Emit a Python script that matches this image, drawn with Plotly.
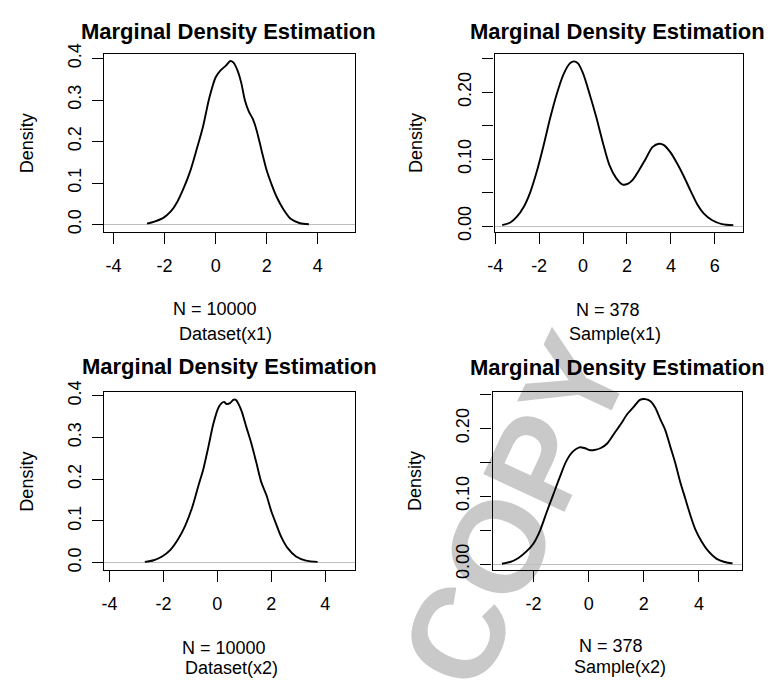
import plotly.graph_objects as go

# ---------------------------------------------------------------
# Kernel density curves (x grid, density) for each variable
# ---------------------------------------------------------------
dataset_x1_x = [-2.69, -2.4, -2.05, -1.75, -1.5, -1.25, -1.0, -0.75, -0.5, -0.25,
                0.0, 0.2, 0.4, 0.57, 0.7, 0.85, 1.0, 1.15, 1.3, 1.45, 1.6, 1.8,
                2.0, 2.2, 2.4, 2.65, 2.95, 3.3, 3.65]
dataset_x1_y = [0.002, 0.007, 0.016, 0.032, 0.055, 0.088, 0.128, 0.180, 0.235, 0.305,
                0.355, 0.372, 0.383, 0.394, 0.390, 0.372, 0.342, 0.298, 0.272, 0.255,
                0.228, 0.178, 0.130, 0.095, 0.065, 0.037, 0.013, 0.003, 0.0005]

sample_x1_x = [-3.68, -3.31, -3.01, -2.71, -2.41, -2.11, -1.8, -1.5, -1.2, -0.9,
               -0.6, -0.42, -0.23, 0.0, 0.3, 0.6, 0.9, 1.2, 1.5, 1.8, 2.03, 2.26,
               2.56, 2.86, 3.16, 3.46, 3.68, 3.98, 4.29, 4.59, 4.89, 5.19, 5.49,
               5.86, 6.32, 6.84]
sample_x1_y = [0.0014, 0.0053, 0.014, 0.028, 0.050, 0.081, 0.120, 0.161, 0.197, 0.226,
               0.243, 0.246, 0.243, 0.228, 0.197, 0.163, 0.125, 0.091, 0.072, 0.062,
               0.063, 0.069, 0.084, 0.101, 0.118, 0.123, 0.121, 0.110, 0.093, 0.074,
               0.053, 0.033, 0.019, 0.009, 0.003, 0.0014]

dataset_x2_x = [-2.69, -2.36, -2.05, -1.74, -1.44, -1.19, -0.94, -0.7, -0.52, -0.33,
                -0.15, 0.04, 0.16, 0.25, 0.34, 0.47, 0.59, 0.69, 0.77, 0.9, 1.08,
                1.26, 1.45, 1.63, 1.82, 2.0, 2.18, 2.37, 2.61, 2.92, 3.29, 3.72]
dataset_x2_y = [0.002, 0.006, 0.015, 0.031, 0.058, 0.089, 0.131, 0.185, 0.224, 0.278,
                0.332, 0.371, 0.382, 0.385, 0.380, 0.382, 0.390, 0.390, 0.382, 0.363,
                0.324, 0.286, 0.239, 0.193, 0.162, 0.124, 0.093, 0.062, 0.035, 0.015,
                0.005, 0.002]

sample_x2_x = [-3.15, -2.85, -2.55, -2.25, -2.01, -1.77, -1.53, -1.29, -1.05, -0.81,
               -0.57, -0.34, -0.16, 0.02, 0.2, 0.44, 0.68, 0.92, 1.16, 1.4, 1.64,
               1.86, 2.06, 2.24, 2.42, 2.6, 2.78, 2.96, 3.14, 3.32, 3.5, 3.68, 3.86,
               4.1, 4.34, 4.63, 4.93, 5.22]
sample_x2_y = [0.0005, 0.003, 0.009, 0.019, 0.030, 0.049, 0.076, 0.102, 0.128, 0.152,
               0.166, 0.172, 0.171, 0.168, 0.168, 0.171, 0.178, 0.192, 0.206, 0.221,
               0.232, 0.242, 0.243, 0.240, 0.230, 0.213, 0.197, 0.173, 0.149, 0.121,
               0.097, 0.073, 0.052, 0.033, 0.019, 0.008, 0.003, 0.001]

# Axis ticks
ticks_dataset_x1 = [-4, -2, 0, 2, 4]
ticks_sample_x1 = [-4, -2, 0, 2, 4, 6]
ticks_dataset_x2 = [-4, -2, 0, 2, 4]
ticks_sample_x2 = [-2, 0, 2, 4]
ytick_dataset = [0.0, 0.1, 0.2, 0.3, 0.4]
ytext_dataset = ["0.0", "0.1", "0.2", "0.3", "0.4"]
ytick_sample = [0.0, 0.05, 0.10, 0.15, 0.20, 0.25]
ytext_sample = ["0.00", "", "0.10", "", "0.20", ""]

titles = ["Marginal Density Estimation"] * 4
n_labels = ["N = 10000", "N = 378", "N = 10000", "N = 378"]
x_labels = ["Dataset(x1)", "Sample(x1)", "Dataset(x2)", "Sample(x2)"]
watermark_text = "COPY"

# ---------------------------------------------------------------
W, H = 770, 692
FONT = "Liberation Sans, Arial, sans-serif"


def fx(px):
    return px / W


def fy(py):
    return 1 - py / H


panels = [
    dict(x=dataset_x1_x, y=dataset_x1_y, box=(98, 351, 43, 226.5),
         xr=[-4.37, 5.45], yr=[-0.0172, 0.4117], xt=ticks_dataset_x1,
         yt=ytick_dataset, ytx=ytext_dataset,
         title=(224, 20.5), n=(210, 306), xl=(220, 332.5), dens=(20.5, 135)),
    dict(x=sample_x1_x, y=sample_x1_y, box=(492, 742.3, 43, 226.5),
         xr=[-4.03, 7.26], yr=[-0.0083, 0.2575], xt=ticks_sample_x1,
         yt=ytick_sample, ytx=ytext_sample,
         title=(616.5, 20.5), n=(606.5, 307.5), xl=(613.7, 332), dens=(412.8, 135)),
    dict(x=dataset_x2_x, y=dataset_x2_y, box=(98, 351, 392.3, 575),
         xr=[-4.2, 5.1], yr=[-0.0163, 0.4077], xt=ticks_dataset_x2,
         yt=ytick_dataset, ytx=ytext_dataset,
         title=(225, 366), n=(219, 656), xl=(226.7, 676.7), dens=(20.5, 484)),
    dict(x=sample_x2_x, y=sample_x2_y, box=(490, 741.7, 392.3, 575),
         xr=[-3.49, 5.56], yr=[-0.0081, 0.2529], xt=ticks_sample_x2,
         yt=ytick_sample, ytx=ytext_sample,
         title=(616.5, 366.5), n=(610, 654.3), xl=(618.5, 675), dens=(412.5, 484)),
]

fig = go.Figure()
annotations = []
layout_axes = {}

for i, p in enumerate(panels, start=1):
    sfx = "" if i == 1 else str(i)
    fig.add_trace(go.Scatter(
        x=p["x"], y=p["y"], mode="lines",
        line=dict(color="black", width=1.9, shape="spline", smoothing=0.8),
        xaxis="x" + sfx, yaxis="y" + sfx, showlegend=False, hoverinfo="skip",
    ))
    x0, x1, y0, y1 = p["box"]
    common = dict(showline=True, linecolor="black", linewidth=1.4, mirror=True,
                  ticks="outside", ticklen=11, tickwidth=1.3, tickcolor="black",
                  showgrid=False, tickfont=dict(family=FONT, size=18, color="black"),
                  fixedrange=True)
    layout_axes["xaxis" + sfx] = dict(
        common, domain=[fx(x0), fx(x1)], range=p["xr"], tickvals=p["xt"],
        ticktext=[str(v) for v in p["xt"]],
        zeroline=False, anchor="y" + sfx, ticklabelstandoff=7,
    )
    layout_axes["yaxis" + sfx] = dict(
        common, domain=[fy(y1), fy(y0)], range=p["yr"], tickvals=p["yt"],
        ticktext=p["ytx"], tickangle=-90, zeroline=True,
        zerolinecolor="#bebebe", zerolinewidth=1.3, anchor="x" + sfx,
        ticklabelstandoff=4,
    )
    tx, ty = p["title"]
    annotations.append(dict(text="<b>%s</b>" % titles[i - 1], x=fx(tx), y=fy(ty),
                            xref="paper", yref="paper", showarrow=False,
                            xanchor="center", yanchor="middle",
                            font=dict(family=FONT, size=22, color="black")))
    nx, ny = p["n"]
    annotations.append(dict(text=n_labels[i - 1], x=fx(nx), y=fy(ny),
                            xref="paper", yref="paper", showarrow=False,
                            xanchor="center", yanchor="middle",
                            font=dict(family=FONT, size=18, color="black")))
    lx, ly = p["xl"]
    annotations.append(dict(text=x_labels[i - 1], x=fx(lx), y=fy(ly),
                            xref="paper", yref="paper", showarrow=False,
                            xanchor="center", yanchor="middle",
                            font=dict(family=FONT, size=18, color="black")))
    dx, dy = p["dens"]
    annotations.append(dict(text="Density", x=fx(dx), y=fy(dy), textangle=-90,
                            xref="paper", yref="paper", showarrow=False,
                            xanchor="center", yanchor="middle",
                            font=dict(family=FONT, size=18, color="black")))

# Watermark, drawn underneath the plot areas
watermark = dict(
    type="rect", xref="paper", yref="paper", layer="below",
    x0=fx(442), x1=fx(562), y0=fy(569), y1=fy(449),
    line=dict(width=0), fillcolor="rgba(0,0,0,0)",
    label=dict(text="<b>%s</b>" % watermark_text, textangle=-65,
               textposition="middle center",
               font=dict(family=FONT, size=130, color="#c9c9c9")),
)

fig.update_layout(
    width=W, height=H, autosize=False,
    margin=dict(l=0, r=0, t=0, b=0, pad=0),
    paper_bgcolor="white", plot_bgcolor="rgba(0,0,0,0)",
    annotations=annotations, shapes=[watermark],
    **layout_axes,
)

fig.write_html("out.html")
